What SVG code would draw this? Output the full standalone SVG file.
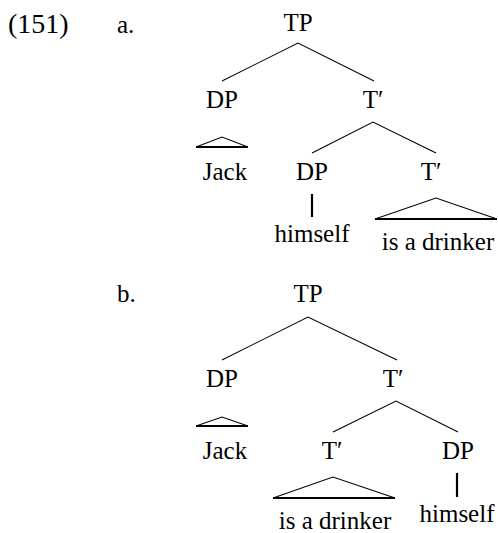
<svg xmlns="http://www.w3.org/2000/svg" width="498" height="533" viewBox="0 0 498 533">
<rect width="498" height="533" fill="#fff"/>
<text id="num" x="8" y="33" font-family="'Liberation Serif'" font-size="28">(151)</text>
<text id="lab-a" x="117" y="33" font-family="'Liberation Serif'" font-size="25">a.</text>
<text id="lab-b" x="117" y="302" font-family="'Liberation Serif'" font-size="25">b.</text>
<text id="a-TP" x="298" y="31" font-family="'Liberation Serif'" font-size="25" text-anchor="middle">TP</text>
<text id="a-DP1" x="222" y="108" font-family="'Liberation Serif'" font-size="25" text-anchor="middle">DP</text>
<text id="a-Tbar1" x="373" y="108" font-family="'Liberation Serif'" font-size="25" text-anchor="middle">T′</text>
<text id="a-Jack" x="225" y="180" font-family="'Liberation Serif'" font-size="25" text-anchor="middle">Jack</text>
<text id="a-DP2" x="312" y="180" font-family="'Liberation Serif'" font-size="25" text-anchor="middle">DP</text>
<text id="a-Tbar2" x="431" y="180" font-family="'Liberation Serif'" font-size="25" text-anchor="middle">T′</text>
<text id="a-himself" x="312" y="242" font-family="'Liberation Serif'" font-size="25" text-anchor="middle">himself</text>
<text id="a-drinker" x="438" y="250" font-family="'Liberation Serif'" font-size="25" text-anchor="middle">is a drinker</text>
<text id="b-TP" x="308" y="302" font-family="'Liberation Serif'" font-size="25" text-anchor="middle">TP</text>
<text id="b-DP1" x="222" y="387" font-family="'Liberation Serif'" font-size="25" text-anchor="middle">DP</text>
<text id="b-Tbar1" x="393" y="387" font-family="'Liberation Serif'" font-size="25" text-anchor="middle">T′</text>
<text id="b-Jack" x="225" y="459" font-family="'Liberation Serif'" font-size="25" text-anchor="middle">Jack</text>
<text id="b-Tbar2" x="332" y="459" font-family="'Liberation Serif'" font-size="25" text-anchor="middle">T′</text>
<text id="b-DP2" x="458" y="459" font-family="'Liberation Serif'" font-size="25" text-anchor="middle">DP</text>
<text id="b-drinker" x="335" y="529" font-family="'Liberation Serif'" font-size="25" text-anchor="middle">is a drinker</text>
<text id="b-himself" x="457" y="522" font-family="'Liberation Serif'" font-size="25" text-anchor="middle">himself</text>
<g id="connectors" stroke="#000" fill="none" stroke-width="1.1">
<path d="M222,81 L298,43 L374,81"/>
<path d="M196,147 L222,137 L248,147"/>
<line x1="196" y1="147" x2="248" y2="147" stroke-width="2.2"/>
<path d="M312,153 L373,122 L436,153"/>
<line x1="312" y1="194" x2="312" y2="217" stroke-width="2.2"/>
<path d="M375,219 L436,198 L497,219"/>
<line x1="375" y1="219" x2="497" y2="219" stroke-width="2.2"/>
<path d="M222,360 L308,317 L397,360"/>
<path d="M196,426 L222,417 L248,426"/>
<line x1="196" y1="426" x2="248" y2="426" stroke-width="2.2"/>
<path d="M333,432 L396,401 L458,432"/>
<path d="M273,498 L333,477 L395,498"/>
<line x1="273" y1="498" x2="395" y2="498" stroke-width="2.2"/>
<line x1="457" y1="473" x2="457" y2="497" stroke-width="2.2"/>
</g>
</svg>
